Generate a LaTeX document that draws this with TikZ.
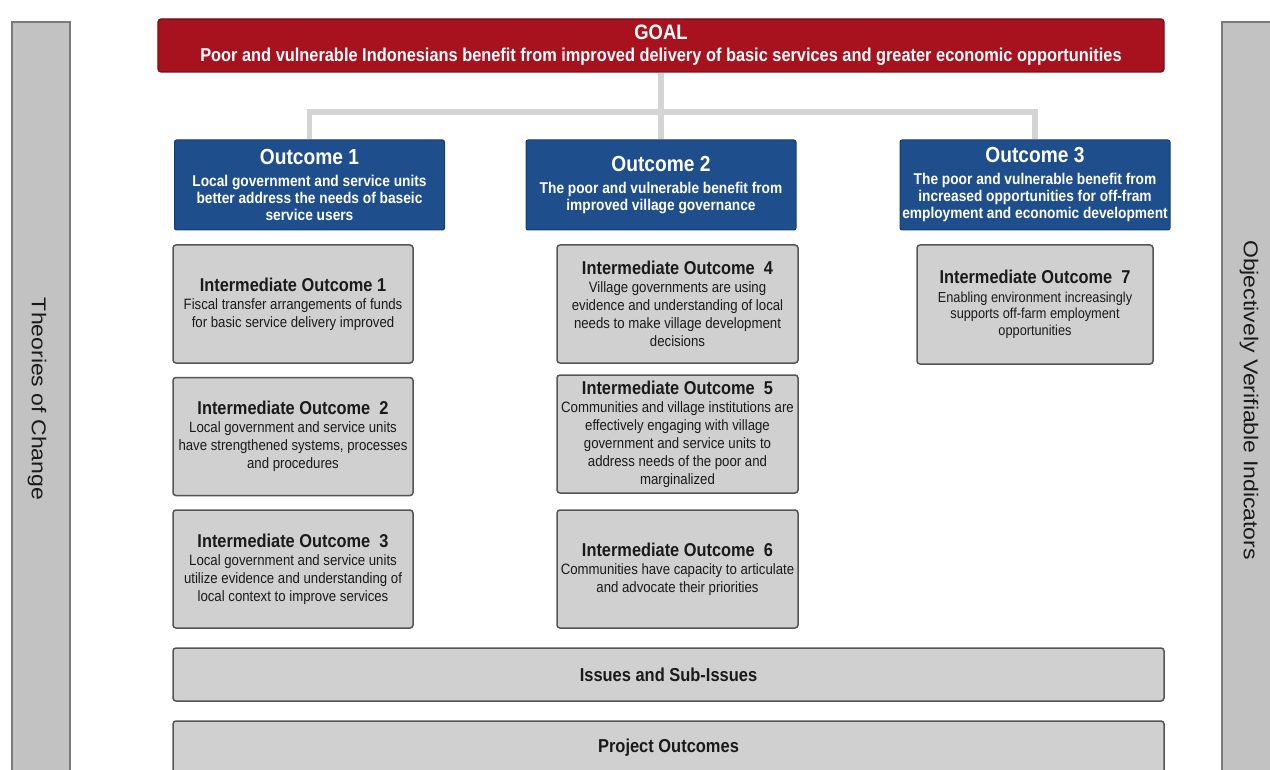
\documentclass[tikz,border=0pt]{standalone}
\usepackage{fontspec}
\setmainfont{Liberation Sans}
\newfontfamily\nf{Liberation Sans}[FakeStretch=0.88]
\newfontfamily\vf{Liberation Sans}[FakeStretch=1.15]
\definecolor{goalred}{HTML}{A8121F}
\definecolor{goalborder}{HTML}{7A0C15}
\definecolor{outblue}{HTML}{1F4E8D}
\definecolor{outborder}{HTML}{163C6E}
\definecolor{iogray}{HTML}{D0D0D0}
\definecolor{ioborder}{HTML}{555555}
\definecolor{iotext}{HTML}{1A1A1A}
\definecolor{sidegray}{HTML}{C2C2C2}
\definecolor{sideborder}{HTML}{7A7A7A}
\definecolor{conngray}{HTML}{D4D4D4}
\newcommand{\iotitle}[1]{{\fontsize{18.6}{22}\selectfont\bfseries #1}}
\newcommand{\outtitle}[1]{{\fontsize{21.8}{24}\selectfont #1}}
\tikzset{
  goalbox/.style={draw=goalborder, fill=goalred, rounded corners=3pt, line width=1.2pt,
    minimum width=1006pt, minimum height=53pt, inner sep=0pt, text=white, align=center,
    font={\nf\bfseries\fontsize{18.6}{22}\selectfont}},
  outbox/.style={draw=outborder, fill=outblue, line width=1pt, rounded corners=2pt,
    minimum width=270pt, minimum height=90pt, inner sep=0pt, text=white, align=center,
    font={\nf\bfseries\fontsize{15.6}{17}\selectfont}},
  iobox/.style={draw=ioborder, fill=iogray, line width=1.5pt, rounded corners=3pt,
    minimum width=240pt, minimum height=118pt, inner sep=0pt, text=iotext, align=center,
    font={\nf\fontsize{15}{18}\selectfont}},
  widebox/.style={draw=ioborder, fill=iogray, line width=1.5pt, rounded corners=3pt,
    minimum width=991pt, minimum height=53pt, inner sep=0pt, text=iotext,
    font={\nf\bfseries\fontsize{18.7}{22}\selectfont}},
  sidebar/.style={draw=sideborder, fill=sidegray, line width=1.2pt, inner sep=0pt,
    minimum width=58pt, minimum height=790pt},
  sidelabel/.style={rotate=-90, inner sep=0pt, text=iotext, font={\vf\fontsize{20}{24}\selectfont}},
  conn/.style={draw=conngray, line width=5.5pt},
}
\begin{document}
\begin{tikzpicture}[x=1pt,y=-1pt]
\useasboundingbox (0,0) rectangle (1270,770);
\clip (0,0) rectangle (1270,770);
\fill[white] (0,0) rectangle (1270,770);

% side bars
\node[sidebar] (lbar) at (41,417) {};
\node[sidebar] (rbar) at (1251,417) {};
\node[sidelabel] (ltxt) at (37,399) {Theories of Change};
\node[sidelabel] (rtxt) at (1249,400) {Objectively Verifiable Indicators};

% goal
\node[goalbox] (goal) at (661,45.5) {{\fontsize{20.9}{24}\selectfont GOAL}\\Poor and vulnerable Indonesians benefit from improved delivery of basic services and greater economic opportunities};

% outcomes
\node[outbox] (o1) at (309.5,185) {\outtitle{Outcome 1}\\[5pt]Local government and service units\\better address the needs of baseic\\service users};
\node[outbox] (o2) at (661,185) {\outtitle{Outcome 2}\\[5pt]The poor and vulnerable benefit from\\improved village governance};
\node[outbox] (o3) at (1035,185) {\outtitle{Outcome 3}\\[5pt]The poor and vulnerable benefit from\\increased opportunities for off-fram\\employment and economic development};

% connectors
\coordinate (j) at (661,112);
\draw[conn] (goal.south) -- (j);
\draw[conn] (o1.north) |- (j) -| (o3.north);
\draw[conn] (j) -- (o2.north);

% intermediate outcomes
\node[iobox] (io1) at (293,304) {\iotitle{Intermediate Outcome 1}\\Fiscal transfer arrangements of funds\\for basic service delivery improved};
\node[iobox] (io2) at (293,436.5) {\iotitle{Intermediate Outcome~ 2}\\Local government and service units\\have strengthened systems, processes\\and procedures};
\node[iobox] (io3) at (293,569) {\iotitle{Intermediate Outcome~ 3}\\Local government and service units\\utilize evidence and understanding of\\local context to improve services};
\node[iobox, minimum width=241pt] (io4) at (677.5,304) {\iotitle{Intermediate Outcome~ 4}\\Village governments are using\\evidence and understanding of local\\needs to make village development\\decisions};
\node[iobox, minimum width=241pt] (io5) at (677.5,434) {\iotitle{Intermediate Outcome~ 5}\\Communities and village institutions are\\effectively engaging with village\\government and service units to\\address needs of the poor and\\marginalized};
\node[iobox, minimum width=241pt] (io6) at (677.5,569) {\iotitle{Intermediate Outcome~ 6}\\Communities have capacity to articulate\\and advocate their priorities};
\node[iobox, minimum width=236pt, minimum height=119pt, font={\nf\fontsize{14.5}{16.5}\selectfont}] (io7) at (1035,304.5) {\iotitle{Intermediate Outcome~ 7}\\[2pt]Enabling environment increasingly\\supports off-farm employment\\opportunities};

% bottom bands
\node[widebox] (issues) at (668.5,674.5) {Issues and Sub-Issues};
\node[widebox] (proj) at (668.5,747.5) {Project Outcomes};
\end{tikzpicture}
\end{document}
